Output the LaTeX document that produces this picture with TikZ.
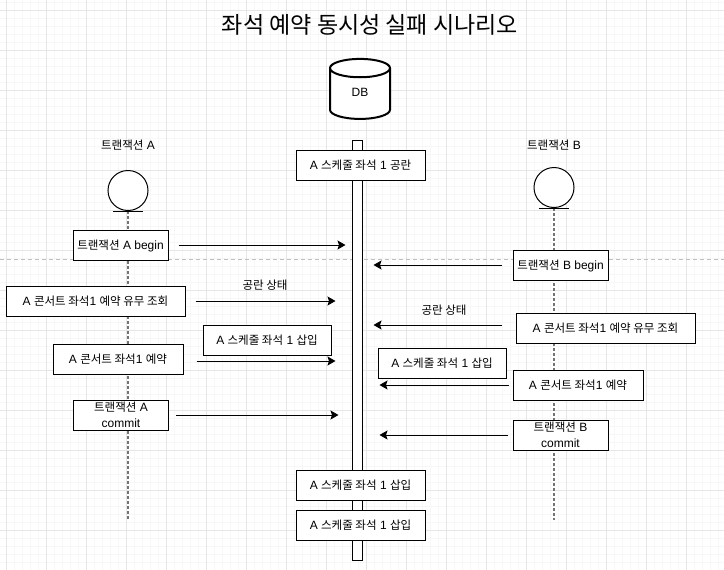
\documentclass[tikz,border=0pt]{standalone}
\usepackage{fontspec}
\setmainfont{Liberation Sans}
\newfontfamily\krfont[Scale=0.96]{Noto Sans CJK KR}
\usetikzlibrary{arrows.meta, positioning, shapes.geometric}
\newcommand{\kr}[1]{{\krfont #1}}
\definecolor{gridmajor}{HTML}{E6E6E6}
\definecolor{gridminor}{HTML}{F7F7F7}

\begin{document}
\begin{tikzpicture}[
  x=1pt, y=-1pt,
  font=\fontsize{12}{15.5}\selectfont,
  box/.style={
    draw,
    line width=1pt,
    fill=white,
    minimum height=30pt,
    inner sep=0pt,
    align=center
  },
  linebox/.style={box, text height=10pt, text depth=1.4pt},
  arr/.style={-{Stealth[length=8pt,width=9pt,inset=1.5pt]}, line width=1pt, shorten <=10pt},
  life/.style={dash pattern=on 2.5pt off 2.5pt, line width=1.2pt, draw=black!55},
  actor/.style={circle, draw, line width=1pt, fill=white, minimum size=40pt, inner sep=0pt}
]
\useasboundingbox (0,0) rectangle (724,570);

% background grid
\foreach \gx in {0,...,90} \draw[gridminor, line width=.8pt] ({\gx*8-1.33},0) -- ({\gx*8-1.33},570);
\foreach \gy in {0,...,71} \draw[gridminor, line width=.8pt] (0,{\gy*8+2}) -- (724,{\gy*8+2});
\foreach \gx in {0,...,18} \draw[gridmajor, line width=.8pt] ({\gx*40+6.67},0) -- ({\gx*40+6.67},570);
\foreach \gy in {0,...,14} \draw[gridmajor, line width=.8pt] (0,{\gy*40+10}) -- (724,{\gy*40+10});

\coordinate (cutL) at (0,259);
\coordinate (cutR) at (724,259);
\draw[dash pattern=on 4pt off 3pt, black!25, line width=.8pt] (cutL) -- (cutR);

\node (title) at (370,24.5) {\fontsize{24}{28}\selectfont\kr{좌석 예약 동시성 실패 시나리오}};

% database
\node[cylinder, shape border rotate=90, draw, line width=2pt, fill=white, aspect=1.1,
  minimum width=60pt, minimum height=60pt, inner sep=0pt] (db) at (360,94) {\raisebox{4pt}{DB}};

% actors
\node (nameA) at (128,145) {\kr{트랜잭션} A};
\node (nameB) at (554,145) {\kr{트랜잭션} B};
\node[actor] (actA) at (128,190.5) {};
\node[actor] (actB) at (554,187.5) {};
\coordinate (endA) at (128,520);
\coordinate (endB) at (554,520);
\draw[life] (actA.south) -- (endA);
\draw[life] (actB.south) -- (endB);
\draw[line width=1pt] ([xshift=-15pt]actA.south) -- ([xshift=15pt]actA.south);
\draw[line width=1pt] ([xshift=-15pt]actB.south) -- ([xshift=15pt]actB.south);

% middle bar
\node[draw, line width=1pt, fill=white, minimum width=9.5pt, minimum height=420pt, inner sep=0pt] (bar) at (357.25,350) {};

\node[linebox, minimum width=129pt] (empty) at (360.5,165) {A \kr{스케줄 좌석} 1 \kr{공란}};
\node[linebox, minimum width=129pt] (ins1) at (360.5,485) {A \kr{스케줄 좌석} 1 \kr{삽입}};
\node[linebox, minimum width=129pt] (ins2) at (360.5,525) {A \kr{스케줄 좌석} 1 \kr{삽입}};

% left side
\node[linebox, minimum width=95pt] (beginA) at (120.5,245) {\kr{트랜잭션} A begin};
\node[linebox, minimum width=179pt] (readA) at (95.5,301) {A \kr{콘서트 좌석}1 \kr{예약 유무 조회}};
\node[linebox, minimum width=130pt] (bookA) at (118,359.5) {A \kr{콘서트 좌석}1 \kr{예약}};
\node[box, minimum width=95pt] (commitA) at (121,415) {\kr{트랜잭션} A\\commit};
\node (freeA) at (265,285) {\kr{공란 상태}};
\node[linebox, minimum width=128pt] (insA) at (267,340) {A \kr{스케줄 좌석} 1 \kr{삽입}};

% right side
\node[linebox, minimum width=95pt] (beginB) at (560.5,265) {\kr{트랜잭션} B begin};
\node[linebox, minimum width=179pt] (readB) at (605.5,328.5) {A \kr{콘서트 좌석}1 \kr{예약 유무 조회}};
\node[linebox, minimum width=130pt] (bookB) at (578,385) {A \kr{콘서트 좌석}1 \kr{예약}};
\node[box, minimum width=95pt] (commitB) at (560.5,435) {\kr{트랜잭션} B\\commit};
\node (freeB) at (444,310) {\kr{공란 상태}};
\node[linebox, minimum width=128pt] (insB) at (442,363.5) {A \kr{스케줄 좌석} 1 \kr{삽입}};

% arrows to the bar
\draw[arr, shorten >=6.5pt] (beginA.east) -- (beginA.east -| bar.west);
\draw[arr, shorten >=16.5pt] (readA.east) -- (readA.east -| bar.west);
\draw[arr, shorten >=16.5pt, shorten <=13pt] ([yshift=-1.5pt]bookA.east) -- ([yshift=-1.5pt]bookA.east -| bar.west);
\draw[arr, shorten >=13.5pt, shorten <=7pt] (commitA.east) -- (commitA.east -| bar.west);
\draw[arr, shorten >=11pt, shorten <=11pt] (beginB.west) -- (beginB.west -| bar.east);
\draw[arr, shorten >=11pt, shorten <=14pt] ([yshift=3.5pt]readB.west) -- ([yshift=3.5pt]readB.west -| bar.east);
\draw[arr, shorten >=17pt, shorten <=4pt] (bookB.west) -- (bookB.west -| bar.east);
\draw[arr, shorten >=17pt, shorten <=5pt] (commitB.west) -- (commitB.west -| bar.east);

\end{tikzpicture}
\end{document}
